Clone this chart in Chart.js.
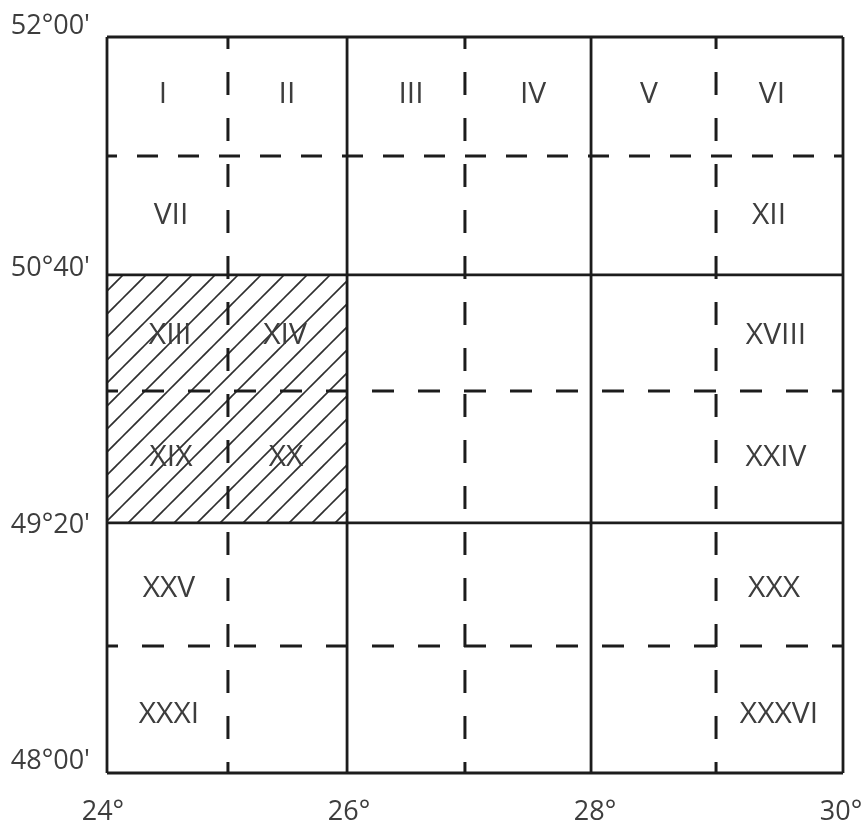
<!DOCTYPE html>
<html>
<head>
<meta charset="utf-8">
<style>
  html, body { margin: 0; padding: 0; background: #fff; }
  canvas { display: block; }
</style>
<script src="https://cdn.jsdelivr.net/npm/chart.js@4"></script>
</head>
<body>
<canvas id="sheetChart" width="866" height="825" style="width:866px;height:825px"></canvas>
<script>
// sheet grid, values
const lonSolid = [24, 25.957, 27.946, 30];
const lonDashed = [24.986, 26.918, 28.965];
const latSolid = [52, 50.707, 49.359, 48];
const latDashedFine = [51.353];
const latDashed = [50.076, 48.69];

// tick labels sit a little off the grid lines in the picture
const xTickValues = [23.967, 25.973, 27.978, 29.984];
const xTickLabels = ["24°", "26°", "28°", "30°"];
const yTickValues = [52.06, 50.745, 49.348, 48.065];
const yTickLabels = ["52°00'", "50°40'", "49°20'", "48°00'"];

const sheetNames = ["I", "II", "III", "IV", "V", "VI", "VII", "XII", "XIII", "XIV", "XVIII", "XIX", "XX", "XXIV", "XXV", "XXX", "XXXI", "XXXVI"];
const sheetLon = [24.457, 25.467, 26.478, 27.473, 28.418, 29.421, 24.522, 29.397, 24.514, 25.451, 29.454, 24.522, 25.459, 29.454, 24.505, 29.438, 24.505, 29.478];
const sheetLat = [51.69, 51.69, 51.69, 51.69, 51.69, 51.69, 51.032, 51.032, 50.38, 50.38, 50.38, 49.717, 49.717, 49.717, 49.005, 49.005, 48.32, 48.32];

const hatchLon = [24, 25.957];
const hatchTop = [50.707, 50.707];
const hatchBottom = [49.359, 49.359];

const INK = "#1c1c1c";
const TEXT = "#3d3d3d";
const FONT = "'Open Sans', sans-serif";

function makeHatch() {
  const c = document.createElement("canvas");
  c.width = 23;
  c.height = 23;
  const g = c.getContext("2d");
  g.strokeStyle = "#2e2e2e";
  g.lineWidth = 1.6;
  [-16, 7, 30, 53].forEach(k => {
    g.beginPath();
    g.moveTo(k + 5, -5);
    g.lineTo(k - 28, 28);
    g.stroke();
  });
  return g.createPattern(c, "repeat");
}

function vLine(lon, width, dash) {
  return {
    data: [{ x: lon, y: 52 }, { x: lon, y: 48 }],
    borderColor: INK, borderWidth: width, borderDash: dash, borderDashOffset: 11,
    showLine: true, pointRadius: 0, clip: false, order: 1
  };
}
function hLine(lat, width, dash) {
  return {
    data: [{ x: 24, y: lat }, { x: 30, y: lat }],
    borderColor: INK, borderWidth: width, borderDash: dash, borderDashOffset: 11,
    showLine: true, pointRadius: 0, clip: false, order: 1
  };
}

const datasets = [
  {
    data: hatchLon.map((x, i) => ({ x, y: hatchTop[i] })),
    showLine: true, pointRadius: 0, borderWidth: 0, fill: "+1",
    backgroundColor: makeHatch(), order: 3
  },
  {
    data: hatchLon.map((x, i) => ({ x, y: hatchBottom[i] })),
    showLine: true, pointRadius: 0, borderWidth: 0, order: 3
  }
];
lonDashed.forEach(v => datasets.push(vLine(v, 3, [23, 23])));
latDashedFine.forEach(v => datasets.push(hLine(v, 3, [21, 20])));
latDashed.forEach(v => datasets.push(hLine(v, 3, [22, 24])));
lonSolid.forEach(v => datasets.push(vLine(v, 2.8, [])));
latSolid.forEach(v => datasets.push(hLine(v, 2.8, [])));

// roman sheet numbers, placed through the scales
const sheetLabels = {
  id: "sheetLabels",
  afterDatasetsDraw(chart) {
    const { ctx, scales } = chart;
    ctx.save();
    ctx.font = "30px " + FONT;
    ctx.fillStyle = TEXT;
    ctx.textAlign = "center";
    ctx.textBaseline = "middle";
    sheetNames.forEach((name, i) => {
      ctx.fillText(name, scales.x.getPixelForValue(sheetLon[i]), scales.y.getPixelForValue(sheetLat[i]));
    });
    ctx.restore();
  }
};

new Chart(document.getElementById("sheetChart"), {
  type: "scatter",
  data: { datasets },
  plugins: [sheetLabels],
  options: {
    responsive: false,
    animation: false,
    devicePixelRatio: 1,
    layout: { padding: { top: 37, right: 23, left: 0, bottom: 0 } },
    plugins: { legend: { display: false }, tooltip: { enabled: false }, title: { display: false } },
    scales: {
      x: {
        type: "linear", min: 24, max: 30,
        grid: { display: false, drawTicks: false }, border: { display: false },
        afterBuildTicks: s => { s.ticks = xTickValues.map(value => ({ value })); },
        afterFit: s => { s.height = 52; s.paddingRight = 0; s.paddingLeft = 0; },
        ticks: {
          autoSkip: false, maxRotation: 0, padding: 23, color: TEXT,
          font: { family: FONT, size: 27 },
          callback: (v, i) => xTickLabels[i]
        }
      },
      y: {
        type: "linear", min: 48, max: 52,
        grid: { display: false, drawTicks: false }, border: { display: false },
        afterBuildTicks: s => { s.ticks = yTickValues.map(value => ({ value })); },
        afterFit: s => { s.width = 107; s.paddingTop = 0; s.paddingBottom = 0; },
        ticks: {
          autoSkip: false, padding: 17, color: TEXT,
          font: { family: FONT, size: 27 },
          callback: (v, i) => yTickLabels[i]
        }
      }
    }
  }
});
</script>
</body>
</html>
